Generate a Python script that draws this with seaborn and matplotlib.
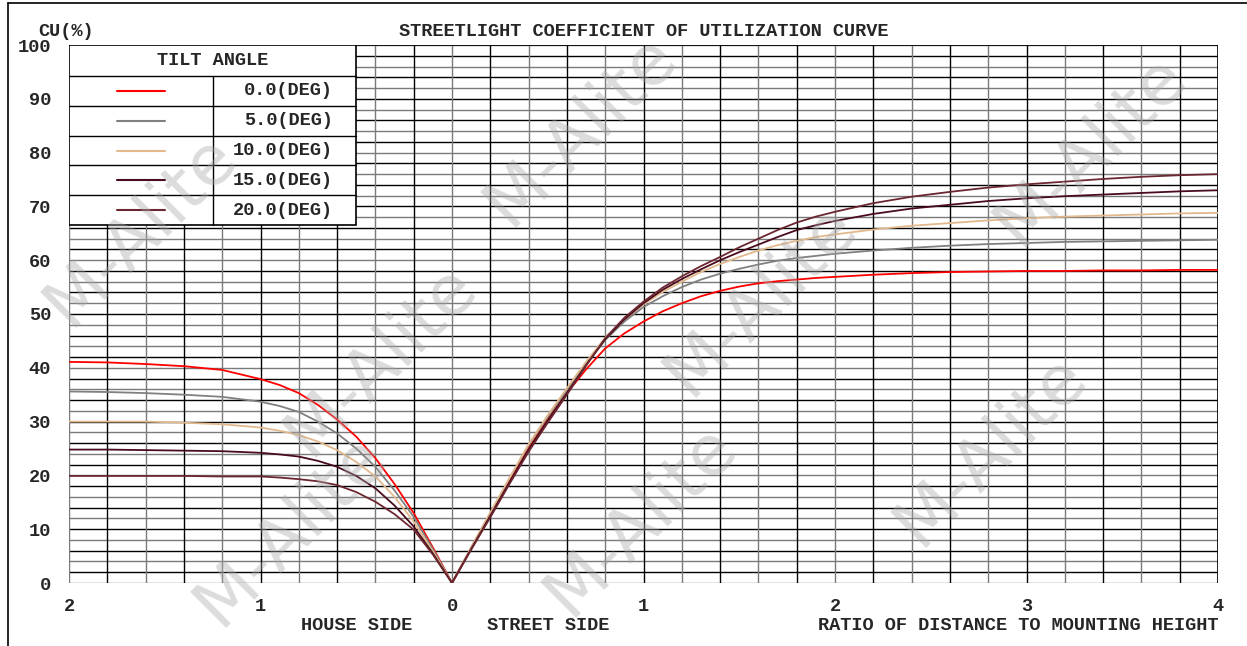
import numpy as np
import pandas as pd
import matplotlib
matplotlib.use("Agg")
import matplotlib.pyplot as plt
import seaborn as sns
from matplotlib.lines import Line2D
from matplotlib.patches import Rectangle

# ==========================
# Dados lidos da curva CU (house side negativo, street side positivo)
# ==========================
ratio = [-2.0, -1.8, -1.6, -1.4, -1.2, -1.0, -0.9, -0.8, -0.7, -0.6, -0.5, -0.4, -0.3, -0.2, -0.1, 0.0,
         0.1, 0.2, 0.3, 0.4, 0.5, 0.6, 0.7, 0.8, 0.9, 1.0, 1.1, 1.2, 1.3, 1.4, 1.5, 1.6, 1.7, 1.8, 1.9, 2.0,
         2.2, 2.4, 2.6, 2.8, 3.0, 3.2, 3.4, 3.6, 3.8, 4.0]

cu_00 = [41.1, 41.0, 40.7, 40.3, 39.6, 37.9, 36.8, 35.3, 33.1, 30.4, 27.2, 23.2, 18.4, 13.0, 6.6, 0.0,
         6.5, 12.8, 19.0, 25.0, 30.4, 35.3, 39.7, 43.6, 46.4, 48.6, 50.5, 52.0, 53.3, 54.3, 55.1, 55.7, 56.1, 56.4, 56.7, 56.9,
         57.3, 57.6, 57.8, 57.9, 58.0, 58.0, 58.1, 58.1, 58.2, 58.2]
cu_05 = [35.6, 35.5, 35.3, 35.0, 34.6, 33.7, 32.9, 31.8, 30.0, 27.8, 25.0, 21.6, 17.2, 12.3, 6.3, 0.0,
         6.6, 13.0, 19.4, 25.6, 30.9, 35.8, 40.7, 45.2, 48.6, 51.3, 53.3, 55.0, 56.4, 57.5, 58.4, 59.2, 59.9, 60.4, 60.8, 61.2,
         61.8, 62.3, 62.7, 63.0, 63.2, 63.4, 63.5, 63.6, 63.7, 63.8]
cu_10 = [30.0, 30.0, 30.0, 29.8, 29.5, 28.9, 28.3, 27.5, 26.3, 24.7, 22.5, 19.8, 16.0, 11.4, 5.9, 0.0,
         6.6, 13.1, 19.5, 25.8, 31.2, 36.2, 41.1, 45.6, 49.0, 51.8, 54.1, 56.0, 57.8, 59.3, 60.6, 61.8, 62.8, 63.6, 64.3, 64.8,
         65.7, 66.4, 66.9, 67.4, 67.8, 68.1, 68.3, 68.5, 68.7, 68.8]
cu_15 = [24.8, 24.8, 24.7, 24.6, 24.5, 24.2, 23.9, 23.5, 22.7, 21.6, 19.9, 17.6, 14.4, 10.5, 5.5, 0.0,
         6.3, 12.5, 18.7, 24.8, 30.2, 35.3, 40.5, 45.3, 49.0, 52.0, 54.5, 56.5, 58.3, 60.0, 61.5, 62.9, 64.3, 65.6, 66.5, 67.3,
         68.6, 69.6, 70.3, 71.0, 71.5, 71.9, 72.2, 72.5, 72.8, 73.0]
cu_20 = [19.9, 19.9, 19.9, 19.9, 19.8, 19.8, 19.6, 19.3, 18.9, 18.2, 16.9, 15.1, 12.8, 9.9, 5.3, 0.0,
         6.2, 12.2, 18.4, 24.4, 29.8, 35.0, 40.4, 45.5, 49.3, 52.3, 54.9, 57.0, 58.9, 60.6, 62.4, 64.0, 65.6, 67.0, 68.1, 69.0,
         70.6, 71.8, 72.7, 73.5, 74.1, 74.6, 75.1, 75.5, 75.8, 76.0]

angles = ["0.0(DEG)", "5.0(DEG)", "10.0(DEG)", "15.0(DEG)", "20.0(DEG)"]
colors = ["#ff0000", "#808080", "#e2b98c", "#4a0c1c", "#6c2630"]

x_ticks = [-2, -1, 0, 1, 2, 3, 4]
x_labels = [str(abs(v)) for v in x_ticks]
y_ticks = list(range(0, 101, 10))

df = pd.DataFrame({
    "ratio": ratio * 5,
    "cu": cu_00 + cu_05 + cu_10 + cu_15 + cu_20,
    "angle": sum([[a] * len(ratio) for a in angles], []),
})

# ==========================
# Figura
# ==========================
sns.set_style("white")
plt.rcParams["font.family"] = ["Liberation Mono", "DejaVu Sans Mono"]
plt.rcParams["font.weight"] = "bold"
FS = 13.4
W, H = 1247, 646

fig = plt.figure(figsize=(W / 100, H / 100), dpi=100)
ax = fig.add_axes([69 / W, 1 - 583 / H, (1218 - 69) / W, (583 - 45) / H])

# grade (linhas alternadas preto / cinza)
hy = np.arange(0, 101, 2)
ax.hlines(hy, -2, 4, colors=["#7a7a7a" if i % 2 == 0 else "#000000" for i in range(len(hy))],
          lw=1.0, zorder=1)
vx = np.round(np.arange(-2, 4.01, 0.2), 2)
ax.vlines(vx, 0, 100, colors=["#7a7a7a" if i % 2 == 0 else "#000000" for i in range(len(vx))],
          lw=1.0, zorder=1)
ax.axvline(4, color="black", lw=1.2, zorder=1)
ax.axhline(100, color="black", lw=1.2, zorder=1)

sns.lineplot(data=df, x="ratio", y="cu", hue="angle", palette=colors, hue_order=angles,
             legend=False, sort=False, estimator=None, lw=1.3, ax=ax, zorder=3)

ax.set_xlim(-2, 4)
ax.set_ylim(0, 100)
ax.set_xticks(x_ticks)
ax.set_xticklabels(x_labels, fontsize=FS, fontweight="bold")
ax.set_yticks(y_ticks)
ax.set_yticklabels([str(v) for v in y_ticks], fontsize=FS, fontweight="bold")
ax.tick_params(axis="x", length=0, pad=11)
ax.tick_params(axis="y", length=0, pad=13)
ax.set_xlabel("")
ax.set_ylabel("")
for s in ax.spines.values():
    s.set_visible(False)

# ==========================
# Legenda em forma de tabela
# ==========================
lx1 = (356 - 69) / (1218 - 69)
lxm = (213 - 69) / (1218 - 69)
ly0 = (583 - 225) / 538
lyh = (583 - 76) / 538
rh = (lyh - ly0) / 5
ax.add_patch(Rectangle((0, ly0), lx1, 1 - ly0, transform=ax.transAxes, facecolor="white",
                       edgecolor="black", lw=1.2, zorder=5))
ax.add_line(Line2D([0, lx1], [lyh, lyh], transform=ax.transAxes, color="black", lw=1.0, zorder=6))
ax.add_line(Line2D([lxm, lxm], [ly0, lyh], transform=ax.transAxes, color="black", lw=1.0, zorder=6))
ax.text(lx1 / 2, (1 + lyh) / 2, "TILT ANGLE", transform=ax.transAxes, ha="center", va="center",
        fontsize=FS, fontweight="bold", zorder=7)
for i, (a, c) in enumerate(zip(angles, colors)):
    top = lyh - i * rh
    yc = top - rh / 2
    if i > 0:
        ax.add_line(Line2D([0, lx1], [top, top], transform=ax.transAxes, color="black", lw=1.0, zorder=6))
    ax.add_line(Line2D([(117 - 69) / 1149, (165 - 69) / 1149], [yc, yc], transform=ax.transAxes,
                       color=c, lw=1.5, zorder=7))
    ax.text((333 - 69) / 1149, yc, a, transform=ax.transAxes, ha="right", va="center",
            fontsize=FS, fontweight="bold", zorder=7)

# ==========================
# Textos
# ==========================
fig.text(38 / W, 1 - 32 / H, "CU(%)", ha="left", va="center", fontsize=FS, fontweight="bold")
fig.text(644 / W, 1 - 31 / H, "STREETLIGHT COEFFICIENT OF UTILIZATION CURVE", ha="center",
         va="center", fontsize=FS, fontweight="bold")
fig.text(357 / W, 1 - 625 / H, "HOUSE SIDE", ha="center", va="center", fontsize=FS, fontweight="bold")
fig.text(548 / W, 1 - 625 / H, "STREET SIDE", ha="center", va="center", fontsize=FS, fontweight="bold")
fig.text(1218 / W, 1 - 625 / H, "RATIO OF DISTANCE TO MOUNTING HEIGHT", ha="right", va="center",
         fontsize=FS, fontweight="bold")

# moldura externa (topo e esquerda)
fig.add_artist(Line2D([8 / W, 8 / W], [0, 1 - 3 / H], transform=fig.transFigure, color="black", lw=1.2))
fig.add_artist(Line2D([8 / W, 1], [1 - 3 / H, 1 - 3 / H], transform=fig.transFigure, color="black", lw=1.2))

# marca d'agua
wm_pos = [(140, 230), (380, 360), (580, 130), (760, 300), (1090, 150), (990, 450),
          (640, 520), (290, 530)]
for px, py in wm_pos:
    fig.text(px / W, 1 - py / H, "M-Alite", rotation=45, ha="center", va="center",
             fontsize=50, family="DejaVu Sans", fontweight="normal", color="#a8a8a8",
             alpha=0.4, zorder=20)

fig.savefig("out.png", dpi=100)
